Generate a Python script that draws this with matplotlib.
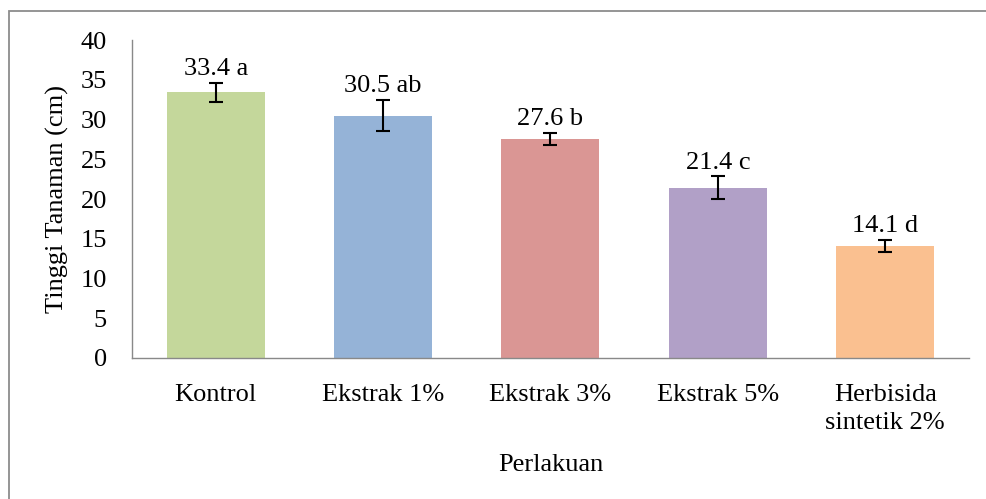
import matplotlib.pyplot as plt
import matplotlib.patches as patches

# Data
categories = ['Kontrol', 'Ekstrak 1%', 'Ekstrak 3%', 'Ekstrak 5%', 'Herbisida\nsintetik 2%']
heights = [33.4, 30.5, 27.6, 21.4, 14.1]
errors = [1.2, 1.95, 0.75, 1.45, 0.75]
letters = ['a', 'ab', 'b', 'c', 'd']
colors = ['#C4D79B', '#95B3D7', '#DA9694', '#B1A0C7', '#FAC090']

plt.rcParams['font.family'] = 'serif'
plt.rcParams['font.serif'] = ['Liberation Serif', 'DejaVu Serif']

fs = 19

fig = plt.figure(figsize=(9.87, 4.99), dpi=100)
ax = fig.add_axes([0.1337, 0.2826, 0.848, 0.6372])

x = range(len(categories))
ax.bar(x, heights, width=0.585, color=colors,
       yerr=errors, capsize=5, error_kw={'elinewidth': 1.5, 'capthick': 1.5, 'ecolor': 'black'})

# Value labels with letters
for i in x:
    ax.annotate(f'{heights[i]} {letters[i]}', (i, heights[i] + errors[i]),
                xytext=(0, 2), textcoords='offset points',
                ha='center', va='bottom', fontsize=fs)

ax.set_ylim(0, 40)
ax.set_xlim(-0.5, len(categories) - 0.5)
ax.set_yticks(range(0, 41, 5))
ax.set_xticks(list(x))
ax.set_xticklabels(categories, fontsize=fs, linespacing=1.38)
ax.tick_params(axis='y', labelsize=fs, length=0, pad=18)
ax.tick_params(axis='x', length=0, pad=18.5)
ax.set_ylabel('Tinggi Tanaman (cm)', fontsize=fs, labelpad=8)
ax.set_xlabel('Perlakuan', fontsize=fs, labelpad=14)

for s in ['top', 'right']:
    ax.spines[s].set_visible(False)
for s in ['left', 'bottom']:
    ax.spines[s].set_color('#898989')
    ax.spines[s].set_linewidth(1.0)

# Outer chart border
border = patches.Rectangle((0.009, -0.1), 1.2, 1.078, transform=fig.transFigure,
                           fill=False, edgecolor='#8c8c8c', linewidth=1.3)
fig.patches.append(border)

fig.savefig('out.png', dpi=100)
